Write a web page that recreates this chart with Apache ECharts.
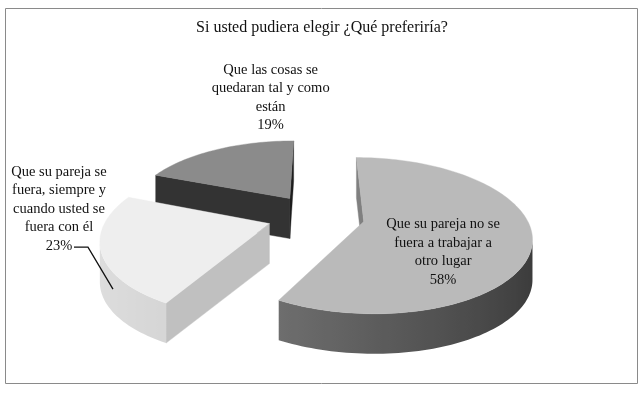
<!DOCTYPE html>
<html><head><meta charset="utf-8">
<script src="https://cdn.jsdelivr.net/npm/echarts@6/dist/echarts.min.js"></script>
<style>html,body{margin:0;padding:0;background:#fff}#c{width:643px;height:393px}</style>
</head><body><div id="c"></div>
<script>
const titleText = 'Si usted pudiera elegir ¿Qué preferiría?';
const categories = [
  'Que su pareja no se\nfuera a trabajar a\notro lugar',
  'Que su pareja se\nfuera, siempre y\ncuando usted se\nfuera con él',
  'Que las cosas se\nquedaran tal y como\nestán'
];
const values = [58, 23, 19];

// styling
const topColors = ['#bababa', '#eeeeee', '#8b8b8b'];
const wallBase = [93, 206, 45];
const wallAmp = [35, 16, 16];
const FONT = '"Liberation Serif", "Times New Roman", serif';

// projection of the tilted disc (3D-pie look)
const CX = 316, CY = 216, K = 162, TILT = 27 * Math.PI / 180, PERSP = 0.2, EXPLODE = 0.3, DEPTH = 40;
const SA = Math.sin(TILT), CA = Math.cos(TILT);
function proj(X, Z) { const v = Z * SA, w = Z * CA, s = 1 / (1 + PERSP * w); return [CX + K * s * X, CY - K * s * v]; }

const total = values.reduce((a, b) => a + b, 0);
const startAngles = []; let acc = 0;
values.forEach(v => { startAngles.push(acc / total * 2 * Math.PI); acc += v; });
const midAngles = values.map((v, i) => startAngles[i] + v / total * Math.PI);
const order = values.map((v, i) => i).sort((a, b) => Math.cos(midAngles[b]) - Math.cos(midAngles[a]));
const rankOf = []; order.forEach((idx, r) => rankOf[idx] = r);

const labelPlace = [{ r: 0.5, dx: -3, dy: 21 }, { r: 1, dx: -42, dy: -42, leader: true }, { r: 1, dx: 54, dy: -52 }];

function grayV(i, nx) { return Math.max(0, Math.min(255, Math.round(wallBase[i] + wallAmp[i] * (-nx)))); }
function gray(g) { const h = g.toString(16).padStart(2, '0'); return '#' + h + h + h; }

function renderItem(params, api) {
  const i = params.dataIndex;
  const v = api.value(0);
  const a0 = startAngles[i], a1 = a0 + v / total * 2 * Math.PI, am = (a0 + a1) / 2;
  const ox = EXPLODE * Math.sin(am), oz = EXPLODE * Math.cos(am);
  const P3 = (r, a) => proj(ox + r * Math.sin(a), oz + r * Math.cos(a));
  const apex = proj(ox, oz);
  const n = Math.max(8, Math.ceil((a1 - a0) / (Math.PI / 120)));
  const arc = [], ang = [];
  for (let k = 0; k <= n; k++) { ang.push(a0 + (a1 - a0) * k / n); arc.push(P3(1, ang[k])); }
  const base = rankOf[i] * 10;
  const children = [];
  const down = p => [p[0], p[1] + DEPTH];
  const flat = (p, q, nx) => {
    if (q[0] - p[0] < 0) {
      const c = gray(grayV(i, nx));
      children.push({ type: 'polygon', shape: { points: [p, q, down(q), down(p)] }, style: { fill: c, stroke: c, lineWidth: 0.4 }, z2: base });
    }
  };
  flat(apex, arc[0], Math.sin(a0 - Math.PI / 2));
  flat(arc[n], apex, Math.sin(a1 + Math.PI / 2));
  let k = 0;
  while (k < n) {
    if (arc[k + 1][0] - arc[k][0] < 0) {
      let e = k;
      while (e + 1 < n && arc[e + 2][0] - arc[e + 1][0] < 0) e++;
      const topPts = arc.slice(k, e + 2);
      const pts = topPts.concat(topPts.slice().reverse().map(down));
      const x0 = arc[k][0], x1 = arc[e + 1][0];
      const stops = [];
      for (let j = k; j <= e + 1; j++) {
        const off = Math.min(1, Math.max(0, (arc[j][0] - x0) / (x1 - x0)));
        stops.push({ offset: off, color: gray(grayV(i, Math.sin(ang[j]))) });
      }
      children.push({ type: 'polygon', shape: { points: pts }, style: { fill: { type: 'linear', x: x0, y: 0, x2: x1, y2: 0, global: true, colorStops: stops }, lineWidth: 0 }, z2: base });
      k = e + 1;
    } else k++;
  }
  children.push({ type: 'polygon', shape: { points: [apex].concat(arc) }, style: { fill: topColors[i], stroke: topColors[i], lineWidth: 0.4 }, z2: base + 1 });

  const lp = labelPlace[i];
  const anc = P3(lp.r, am);
  const lx = anc[0] + lp.dx, ly = anc[1] + lp.dy;
  const pct = Math.round(v / total * 100) + '%';
  children.push({ type: 'text', x: lx, y: ly, style: { text: categories[i] + '\n' + pct, fill: '#111', fontFamily: FONT, fontSize: 14.5, align: 'center', verticalAlign: 'middle', lineHeight: 18.5 }, z2: 100 });
  if (lp.leader) {
    children.push({ type: 'polyline', shape: { points: [[lx + 15, ly + 38], [lx + 29, ly + 38], [anc[0] + 12, anc[1] + 38]] }, style: { stroke: '#111', lineWidth: 1.3, fill: null }, z2: 100 });
  }
  return { type: 'group', children };
}

const chart = echarts.init(document.getElementById('c'));
chart.setOption({
  animation: false,
  graphic: [
    { type: 'rect', shape: { x: 5.5, y: 8.5, width: 632, height: 375 }, style: { fill: 'none', stroke: '#8a8a8a', lineWidth: 1 }, z: -1 },
    { type: 'text', x: 322, y: 28, style: { text: titleText, fill: '#111', fontFamily: FONT, fontSize: 16, align: 'center', verticalAlign: 'middle' } }
  ],
  series: [{
    type: 'custom',
    coordinateSystem: 'none',
    renderItem,
    data: values.map((v, i) => ({ name: categories[i].replace(/\n/g, ' '), value: [v] }))
  }]
});
</script>
</body></html>
